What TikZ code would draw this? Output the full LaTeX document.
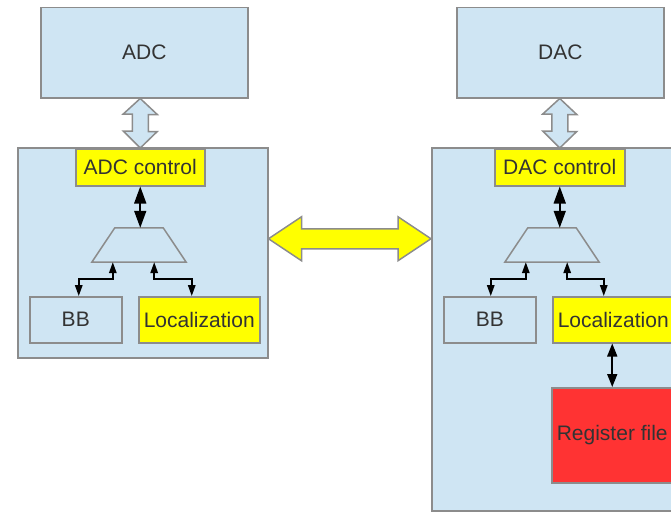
\documentclass[tikz,border=0pt]{standalone}
\usepackage{fontspec}
\setmainfont{Liberation Sans}
\usetikzlibrary{arrows.meta,calc}
\definecolor{boxblue}{HTML}{CFE5F3}
\definecolor{edgegray}{HTML}{8C8C8C}
\definecolor{txt}{HTML}{333333}
\definecolor{hlyellow}{HTML}{FFFF00}
\definecolor{regred}{HTML}{FF3333}
\tikzset{
  blk/.style={draw=edgegray, line width=1.5pt, fill=boxblue, inner sep=0pt, anchor=north west,
    text=txt, font=\fontsize{21}{24}\selectfont},
  yelbox/.style={blk, fill=hlyellow},
  regbox/.style={blk, fill=regred},
  hollow/.style={draw=edgegray, line width=1.5pt, fill=boxblue, line join=miter},
  bigarrow/.style={draw=edgegray, line width=1.5pt, fill=hlyellow, line join=miter},
  mux/.style={draw=edgegray, line width=1.5pt, fill=boxblue},
  sigbig/.style={line width=1.6pt, {Triangle[length=17pt,width=12pt]}-{Triangle[length=17pt,width=12pt]}},
  sigsmall/.style={line width=1.6pt, {Triangle[length=11pt,width=7.5pt]}-{Triangle[length=11pt,width=7.5pt]}},
  sigmid/.style={line width=1.6pt, {Triangle[length=13pt,width=10pt]}-{Triangle[length=13pt,width=10pt]}},
}
\begin{document}
\begin{tikzpicture}[x=1pt,y=-1pt]
\useasboundingbox (0,0) rectangle (671,511);
\clip (0,0) rectangle (671,511);
\fill[white] (0,0) rectangle (671,511);

% ---------- left (ADC) side ----------
\node[blk, minimum width=207pt, minimum height=90pt] (adc) at (40,7) {ADC};
\node[blk, minimum width=250pt, minimum height=210pt] (bigL) at (17,147) {};
\node[yelbox, minimum width=129pt, minimum height=37pt] (adcctl) at (75,148) {ADC control};
\node[blk, minimum width=92pt, minimum height=46pt] (bbL) at (29,296) {BB};
\node[yelbox, minimum width=121pt, minimum height=46pt] (locL) at (138,296) {Localization};
\node[inner sep=0pt, minimum width=94pt, minimum height=34pt] (muxL) at (139,245) {};
\draw[mux] (muxL.south west) -- (muxL.south east) -- ([xshift=-23pt]muxL.north east) -- ([xshift=23pt]muxL.north west) -- cycle;

% ---------- right (DAC) side ----------
\node[blk, minimum width=207pt, minimum height=90pt] (dac) at (456,7) {DAC};
\node[blk, minimum width=300pt, minimum height=363pt] (bigR) at (431,147) {};
\node[yelbox, minimum width=130pt, minimum height=37pt] (dacctl) at (494,148) {DAC control};
\node[blk, minimum width=92pt, minimum height=46pt] (bbR) at (443,296) {BB};
\node[yelbox, minimum width=121pt, minimum height=46pt] (locR) at (552,296) {Localization};
\node[regbox, minimum width=121pt, minimum height=95pt] (reg) at (551,387) {Register file};
\node[inner sep=0pt, minimum width=94pt, minimum height=34pt] (muxR) at (552,245) {};
\draw[mux] (muxR.south west) -- (muxR.south east) -- ([xshift=-23pt]muxR.north east) -- ([xshift=23pt]muxR.north west) -- cycle;

% ---------- hollow vertical arrows ----------
\path (adc.south -| adcctl.north) coordinate (h1) (adcctl.north) coordinate (h2);
\draw[hollow] (h1) -- ++(17,16) -- ++(-9,0) -- ++(0,17) -- ++(9,0) -- (h2)
  -- ++(-17,-17) -- ++(9,0) -- ++(0,-17) -- ++(-9,0) -- cycle;
\path (dac.south -| dacctl.north) coordinate (d1) (dacctl.north) coordinate (d2);
\draw[hollow] (d1) -- ++(17,16) -- ++(-9,0) -- ++(0,17) -- ++(9,0) -- (d2)
  -- ++(-17,-17) -- ++(9,0) -- ++(0,-17) -- ++(-9,0) -- cycle;

% ---------- yellow horizontal arrow ----------
\coordinate (ltip) at ([yshift=14pt]bigL.east);
\coordinate (rtip) at (bigR.west |- ltip);
\draw[bigarrow] (ltip) -- ++(33,-22) -- ++(0,12) -- ($(rtip)+(-33,-10)$) -- ++(0,-12) -- (rtip)
  -- ++(-33,22) -- ++(0,-12) -- ($(ltip)+(33,10)$) -- ++(0,12) -- cycle;

% ---------- signal arrows ----------
\draw[sigbig] (adcctl.south) -- (adcctl.south |- muxL.north);
\draw[sigbig] (dacctl.south) -- (dacctl.south |- muxR.north);
\draw[sigsmall] ([xshift=21pt]muxL.south west) |- ([xshift=3pt,yshift=17pt]bbL.north) -- ([xshift=3pt]bbL.north);
\draw[sigsmall] ([xshift=-32pt]muxL.south east) |- ([xshift=-7.5pt,yshift=17pt]locL.north) -- ([xshift=-7.5pt]locL.north);
\draw[sigsmall] ([xshift=21pt]muxR.south west) |- ([xshift=1pt,yshift=17pt]bbR.north) -- ([xshift=1pt]bbR.north);
\draw[sigsmall] ([xshift=-32pt]muxR.south east) |- ([xshift=-9.5pt,yshift=17pt]locR.north) -- ([xshift=-9.5pt]locR.north);
\draw[sigmid] (reg.north) -- (reg.north |- locR.south);
\end{tikzpicture}
\end{document}
